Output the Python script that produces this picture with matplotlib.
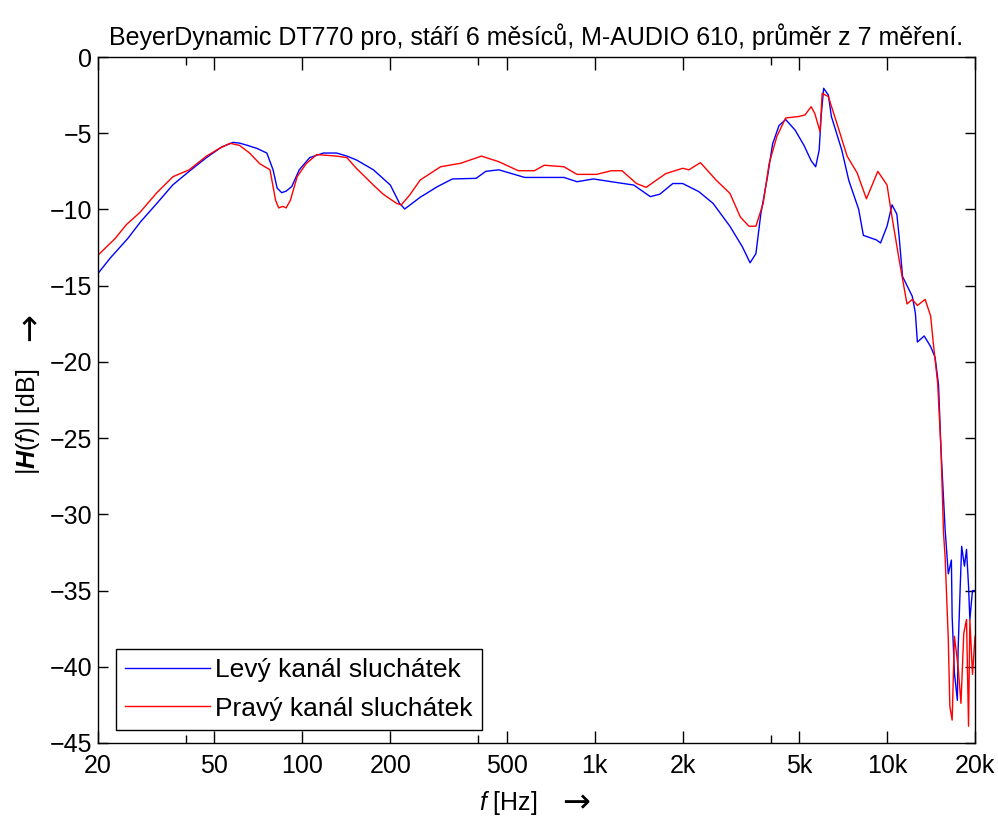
import matplotlib
matplotlib.use('Agg')
import matplotlib.pyplot as plt
from matplotlib.ticker import FixedLocator, NullFormatter

plt.rcParams['font.family'] = ['Liberation Sans', 'DejaVu Sans']
plt.rcParams['mathtext.fontset'] = 'custom'
plt.rcParams['mathtext.rm'] = 'Liberation Sans'
plt.rcParams['mathtext.it'] = 'Liberation Sans:italic'
plt.rcParams['mathtext.bf'] = 'Liberation Sans:bold'
plt.rcParams['mathtext.bfit'] = 'Liberation Sans:bold:italic'

# levy kanal
f_l = [20, 22, 25.3, 28, 31.8, 36, 41, 47, 53, 58, 61, 65, 70, 75.6, 79.4, 82, 85, 88, 92, 97.6,
       106, 118, 131, 142, 153, 175, 200, 215, 224, 253, 290, 326, 393, 424, 470, 576, 785, 870,
       990, 1140, 1360, 1550, 1670, 1850, 2000, 2270, 2540, 2900, 3200, 3400, 3560, 3700, 3900,
       4060, 4270, 4500, 4850, 5200, 5500, 5700, 5860, 5950, 6070, 6300, 6450, 7000, 7400, 8000,
       8300, 9200, 9500, 10000, 10400, 10800, 11000, 11300, 12200, 12500, 12700, 13400, 14100,
       14600, 15000, 15300, 15800, 16200, 16600, 16700, 17000, 17400, 17500, 17800, 18000, 18400,
       18700, 19000, 19200, 19600, 20000]
h_l = [-14.2, -13.2, -11.9, -10.8, -9.6, -8.4, -7.5, -6.6, -5.9, -5.6, -5.65, -5.8, -6.0, -6.3,
       -7.4, -8.6, -8.9, -8.8, -8.5, -7.4, -6.6, -6.3, -6.3, -6.5, -6.75, -7.4, -8.4, -9.6, -9.97,
       -9.2, -8.5, -8.0, -7.96, -7.5, -7.4, -7.9, -7.9, -8.18, -8.0, -8.18, -8.4, -9.16, -9.0, -8.3,
       -8.3, -8.83, -9.6, -11.1, -12.45, -13.5, -12.9, -10.3, -7.85, -5.7, -4.5, -4.1, -4.8, -5.8,
       -6.8, -7.2, -6.1, -3.9, -2.05, -2.5, -3.9, -6.1, -8.1, -10.0, -11.7, -12.0, -12.2, -11.1,
       -9.7, -10.3, -11.8, -14.4, -15.7, -16.8, -18.7, -18.3, -19.0, -19.7, -21.5, -25.8, -31.0,
       -33.9, -33.0, -36.7, -40.4, -42.2, -38.9, -34.7, -32.1, -33.4, -32.3, -34.7, -36.9, -35.0,
       -35.0]

# pravy kanal
f_r = [20, 22.9, 25, 27.8, 31.8, 36.1, 41, 47, 52, 56.6, 61, 66, 71.5, 77.5, 81, 83, 85.8, 88, 91,
       96, 103, 112, 131, 142, 153, 175, 189, 210, 218, 233, 253, 297, 348, 410, 470, 548, 622, 672,
       785, 870, 1015, 1140, 1240, 1390, 1500, 1750, 2000, 2100, 2300, 2600, 2900, 3150, 3370, 3560,
       3770, 3950, 4200, 4500, 5000, 5240, 5500, 5660, 5900, 6000, 6300, 6800, 7300, 7900, 8500,
       9300, 10000, 10400, 11000, 11700, 12200, 12700, 13500, 14100, 14400, 14900, 15300, 15600,
       15800, 16200, 16400, 16700, 17000, 17500, 17900, 18300, 18700, 19000, 19200, 19600, 20000]
h_r = [-13.0, -11.9, -11.0, -10.2, -8.9, -7.85, -7.4, -6.5, -6.0, -5.66, -5.8, -6.3, -7.0, -7.4,
       -9.4, -9.9, -9.8, -9.9, -9.4, -7.85, -7.0, -6.4, -6.5, -6.6, -7.3, -8.4, -9.0, -9.6, -9.7,
       -9.05, -8.07, -7.2, -6.97, -6.5, -6.87, -7.46, -7.46, -7.1, -7.2, -7.7, -7.7, -7.46, -7.46,
       -8.3, -8.55, -7.65, -7.3, -7.4, -6.93, -8.07, -8.94, -10.5, -11.1, -11.1, -9.6, -7.0, -5.2,
       -4.0, -3.9, -3.8, -3.26, -3.7, -4.9, -2.38, -2.6, -4.6, -6.5, -7.6, -9.3, -7.5, -8.4, -10.5,
       -13.3, -16.2, -15.9, -16.3, -15.9, -17.0, -18.8, -21.4, -25.8, -31.2, -32.8, -38.2, -42.6,
       -43.5, -38.0, -40.0, -42.4, -37.8, -36.9, -43.9, -36.9, -40.5, -38.0]

xticks = [20, 50, 100, 200, 500, 1000, 2000, 5000, 10000, 20000]
xlabels = ['20', '50', '100', '200', '500', '1k', '2k', '5k', '10k', '20k']
xminor = [40, 400, 4000]
yticks = list(range(-45, 1, 5))

fs = 18

fig = plt.figure(figsize=(9.98, 8.19), dpi=100)
ax = fig.add_axes([0.0982, 0.0928, 0.8788, 0.8376])

ax.plot(f_l, h_l, color='#0000ff', lw=1.0, label='Levý kanál sluchátek')
ax.plot(f_r, h_r, color='#ff0000', lw=1.0, label='Pravý kanál sluchátek')

ax.set_xscale('log')
ax.set_xlim(20, 20000)
ax.set_ylim(-45, 0)
ax.xaxis.set_major_locator(FixedLocator(xticks))
ax.set_xticklabels(xlabels)
ax.xaxis.set_minor_locator(FixedLocator(xminor))
ax.xaxis.set_minor_formatter(NullFormatter())
ax.set_yticks(yticks)
ax.tick_params(which='major', direction='in', top=True, right=True, length=9, width=1,
               labelsize=fs)
ax.tick_params(which='minor', direction='in', top=True, right=True, length=6, width=1)
ax.tick_params(axis='x', pad=8)
ax.tick_params(axis='y', length=7, pad=4)
for s in ax.spines.values():
    s.set_linewidth(1.0)

ax.set_title('BeyerDynamic DT770 pro, stáří 6 měsíců, M-AUDIO 610, průměr z 7 měření.',
             fontsize=fs, pad=9)

# popisky os, sipka zvlast (DejaVu ma vetsi sipku)
fig.text(0.509, 0.0195, r'$\mathit{f}$ [Hz]', fontsize=fs, ha='center', va='center')
fig.text(0.577, 0.0195, '→', fontsize=24, family='DejaVu Sans', ha='center', va='center')
fig.text(0.028, 0.4847, r'|$\mathbfit{H}$($\mathit{f}$)| [dB]', fontsize=fs, rotation=90,
         ha='center', va='center')
fig.text(0.030, 0.6007, '→', fontsize=24, family='DejaVu Sans', rotation=90,
         ha='center', va='center')

leg = ax.legend(loc='lower left', bbox_to_anchor=(0.0205, 0.019), borderaxespad=0,
                fontsize=19, fancybox=False, framealpha=1, edgecolor='black',
                handlelength=3.2, handletextpad=0.2, borderpad=0.35, labelspacing=0.55)
leg.get_frame().set_linewidth(1.0)

fig.savefig('out.png', dpi=100)
